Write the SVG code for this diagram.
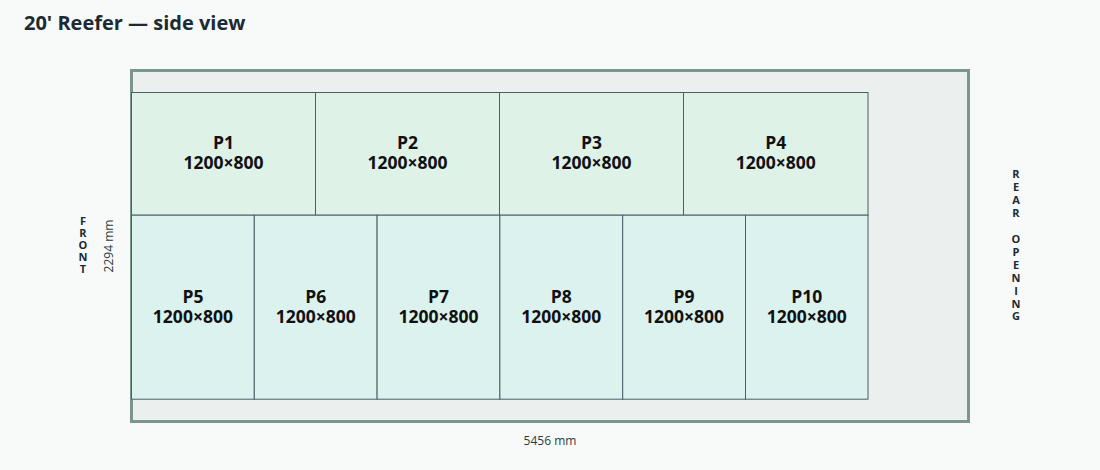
<svg xmlns="http://www.w3.org/2000/svg" width="1100" height="470" viewBox="0 0 1100 470">
<style>
.bg{fill:#f8faf9}
.title{font-family:"Open Sans","Liberation Sans",sans-serif;font-weight:700;font-size:20px;fill:#1b2a33}
.cont{fill:#ebf0ee;stroke:#7d968d;stroke-width:3}
.pt{fill:#dff2e8;stroke:#4b5f66;stroke-width:1}
.pb{fill:#dcf2ef;stroke:#4b5f66;stroke-width:1}
.lbl{font-family:"Open Sans","Liberation Sans",sans-serif;font-weight:700;font-size:17.5px;fill:#111;text-anchor:middle}
.side{font-family:"Open Sans","Liberation Sans",sans-serif;font-weight:700;font-size:11px;fill:#1b2a33;text-anchor:middle}
.dim{font-family:"Open Sans","Liberation Sans",sans-serif;font-size:12px;fill:#2a3a42;text-anchor:middle}
</style>
<rect class="bg" x="0" y="0" width="1100" height="470"/>
<text class="title" x="24" y="30">20' Reefer — side view</text>
<g id="container"><rect class="cont" x="131.5" y="70.5" width="837" height="351"/></g>
<g id="P1"><rect class="pt" x="131.5" y="92.5" width="184" height="122.7"/><text class="lbl" x="223.5" y="149">P1<tspan x="223.5" dy="20">1200×800</tspan></text></g>
<g id="P2"><rect class="pt" x="315.5" y="92.5" width="184" height="122.7"/><text class="lbl" x="407.5" y="149">P2<tspan x="407.5" dy="20">1200×800</tspan></text></g>
<g id="P3"><rect class="pt" x="499.5" y="92.5" width="184" height="122.7"/><text class="lbl" x="591.5" y="149">P3<tspan x="591.5" dy="20">1200×800</tspan></text></g>
<g id="P4"><rect class="pt" x="683.5" y="92.5" width="184.5" height="122.7"/><text class="lbl" x="775.7" y="149">P4<tspan x="775.7" dy="20">1200×800</tspan></text></g>
<g id="P5"><rect class="pb" x="131.5" y="215.2" width="122.8" height="184"/><text class="lbl" x="192.9" y="303">P5<tspan x="192.9" dy="20">1200×800</tspan></text></g>
<g id="P6"><rect class="pb" x="254.3" y="215.2" width="122.8" height="184"/><text class="lbl" x="315.7" y="303">P6<tspan x="315.7" dy="20">1200×800</tspan></text></g>
<g id="P7"><rect class="pb" x="377.1" y="215.2" width="122.8" height="184"/><text class="lbl" x="438.5" y="303">P7<tspan x="438.5" dy="20">1200×800</tspan></text></g>
<g id="P8"><rect class="pb" x="499.9" y="215.2" width="122.8" height="184"/><text class="lbl" x="561.3" y="303">P8<tspan x="561.3" dy="20">1200×800</tspan></text></g>
<g id="P9"><rect class="pb" x="622.7" y="215.2" width="122.8" height="184"/><text class="lbl" x="684.1" y="303">P9<tspan x="684.1" dy="20">1200×800</tspan></text></g>
<g id="P10"><rect class="pb" x="745.5" y="215.2" width="122.5" height="184"/><text class="lbl" x="806.8" y="303">P10<tspan x="806.8" dy="20">1200×800</tspan></text></g>
<g id="front">
<text class="side" x="83" y="225">F<tspan x="83" dy="12">R</tspan><tspan x="83" dy="12">O</tspan><tspan x="83" dy="12">N</tspan><tspan x="83" dy="12">T</tspan></text>
</g>
<g id="rear">
<text class="side" x="1016" y="178">R<tspan x="1016" dy="13">E</tspan><tspan x="1016" dy="13">A</tspan><tspan x="1016" dy="13">R</tspan><tspan x="1016" dy="26">O</tspan><tspan x="1016" dy="13">P</tspan><tspan x="1016" dy="13">E</tspan><tspan x="1016" dy="13">N</tspan><tspan x="1016" dy="13">I</tspan><tspan x="1016" dy="13">N</tspan><tspan x="1016" dy="12">G</tspan></text>
</g>
<text class="dim" x="113" y="246" transform="rotate(-90 113 246)">2294 mm</text>
<text class="dim" x="550" y="445">5456 mm</text>
</svg>
